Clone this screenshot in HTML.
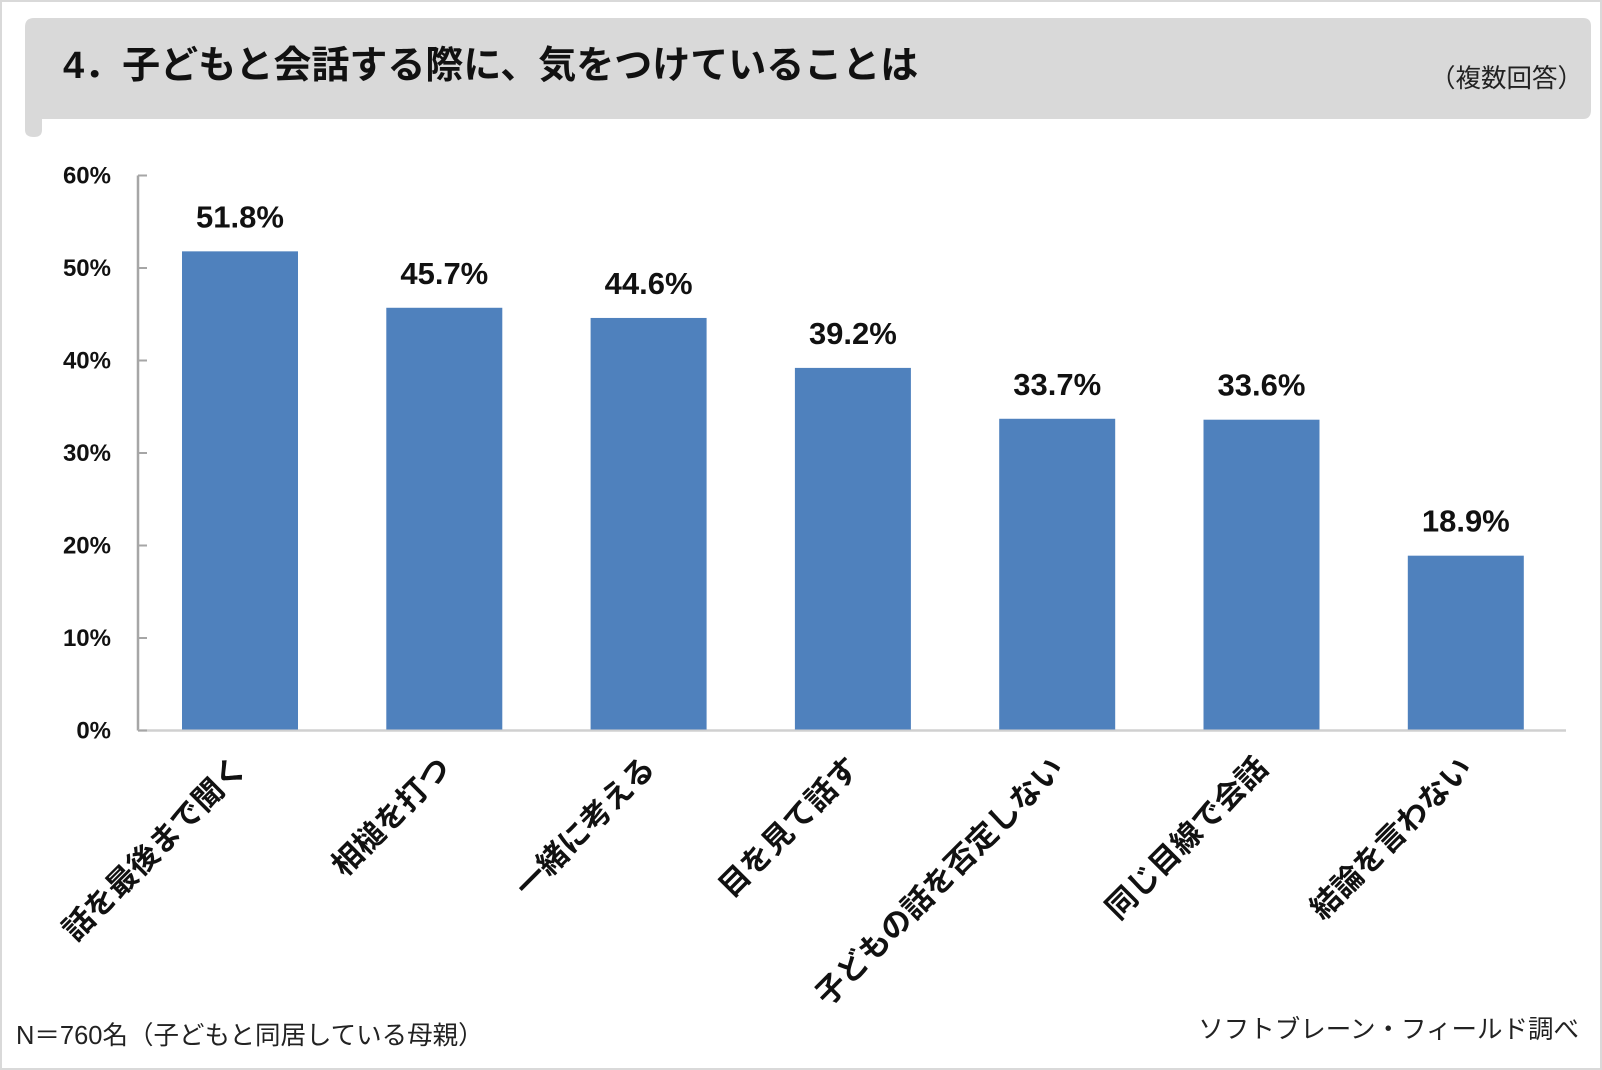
<!DOCTYPE html>
<html><head><meta charset="utf-8"><style>
body{margin:0;background:#fff;}
#root{position:relative;width:1602px;height:1070px;overflow:hidden;background:#fff;font-family:"Liberation Sans","Noto Sans CJK JP",sans-serif;}
</style></head><body>
<div id="root">
<svg width="1602" height="1070" xmlns="http://www.w3.org/2000/svg" style="font-family:'Liberation Sans','Noto Sans CJK JP',sans-serif">
<rect x="1" y="1" width="1600" height="1068" fill="#fff" stroke="#d9d9d9" stroke-width="2"/>
<path d="M34,18 H1583 Q1591,18 1591,26 V110 Q1591,119 1583,119 H42 V130 Q42,137 34,137 Q25,137 25,130 V27 Q25,18 34,18 Z" fill="#d9d9d9"/>
<text x="63" y="78" font-size="38" font-weight="bold" fill="#111">4．子どもと会話する際に、気をつけていることは</text>
<text x="1583" y="87" font-size="25.5" fill="#222" text-anchor="end">（複数回答）</text>
<g id="plot"></g>
<text x="16" y="1044" font-size="25.5" fill="#222">N＝760名（子どもと同居している母親）</text>
<text x="1579" y="1038" font-size="25.5" fill="#222" text-anchor="end">ソフトブレーン・フィールド調べ</text>
</svg>
</div>
<script>
const categories=["話を最後まで聞く","相槌を打つ","一緒に考える","目を見て話す","子どもの話を否定しない","同じ目線で会話","結論を言わない"];
const values=[51.8,45.7,44.6,39.2,33.7,33.6,18.9];
const valueLabels=["51.8%","45.7%","44.6%","39.2%","33.7%","33.6%","18.9%"];
const ticks=[0,10,20,30,40,50,60];
const tickLabels=["0%","10%","20%","30%","40%","50%","60%"];

const NS="http://www.w3.org/2000/svg";
const g=document.getElementById('plot');
const x0=138,xEnd=1566,yTop=175.5,yBot=730.5,yMax=60;
const step=204.3,firstC=240,bw=116;
function yS(v){return yBot-(v/yMax)*(yBot-yTop);}
function xC(i){return firstC+i*step;}
function mk(tag,attrs){const e=document.createElementNS(NS,tag);for(const k in attrs)e.setAttribute(k,attrs[k]);g.appendChild(e);return e;}

let ax=mk('line',{x1:x0,y1:yTop,x2:x0,y2:yBot,stroke:'#a6a6a6','stroke-width':2.5});


let bx=mk('line',{x1:x0,y1:yBot,x2:xEnd,y2:yBot,stroke:'#d0d0d0','stroke-width':2.5});


ticks.forEach((t,i)=>{
  const tk=mk('line',{x1:x0,y1:yS(t),x2:x0+9,y2:yS(t),stroke:'#a6a6a6','stroke-width':2});
  
  
  const tl=mk('text',{x:111,y:yS(t)+8,'font-size':24,'font-weight':'bold','text-anchor':'end',fill:'#111'});
  tl.textContent=tickLabels[i];
  
  
});
values.forEach((v,i)=>{
  const r=mk('rect',{x:xC(i)-bw/2,y:yS(v),width:bw,height:yBot-1-yS(v),fill:'#4f81bd'});
  
  
  const vl=mk('text',{x:xC(i),y:yS(v)-24,'font-size':31,'font-weight':'bold','text-anchor':'middle',fill:'#111'});
  vl.textContent=valueLabels[i];
  
  
  const cx=xC(i)+8,cy=770;
  const cl=mk('text',{x:cx,y:cy,'font-size':30.5,'font-weight':'bold','text-anchor':'end',fill:'#111',transform:`rotate(-45 ${cx} ${cy})`});
  cl.textContent=categories[i];
  
  
});
</script>
</body></html>
